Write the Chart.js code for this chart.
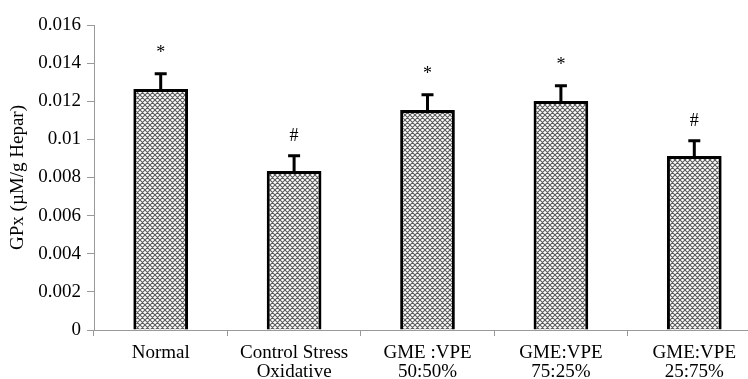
<!DOCTYPE html>
<html>
<head>
<meta charset="utf-8">
<script src="https://cdn.jsdelivr.net/npm/chart.js@4"></script>
<style>
html,body{margin:0;padding:0;background:#fff;overflow:hidden;}
#wrap{width:780px;height:379px;}
</style>
</head>
<body>
<div id="wrap"><canvas id="grafico" width="780" height="379"></canvas></div>
<script>
const categorias=[["Normal"],["Control Stress","Oxidative"],["GME :VPE","50:50%"],["GME:VPE","75:25%"],["GME:VPE","25:75%"]];
const valores=[0.01264,0.00834,0.01154,0.01201,0.00913];
const erros=[0.0008,0.0008,0.0008,0.0008,0.0008];
const marcas=["*","#","*","*","#"];
const yTicks=[0,0.002,0.004,0.006,0.008,0.01,0.012,0.014,0.016];

function hachura(){
let c=document.createElement("canvas");c.width=5;c.height=5;
let g=c.getContext("2d");
g.fillStyle="#fff";g.fillRect(0,0,5,5);
g.strokeStyle="#5c5c5c";g.lineWidth=1.1;
g.beginPath();
for(let k=-5;k<=5;k+=5){g.moveTo(k-1,-1);g.lineTo(k+6,6);g.moveTo(k+6,-1);g.lineTo(k-1,6);}
g.stroke();
return g.createPattern(c,"repeat");
}

const barrasErro={
id:"barrasErro",
afterDatasetsDraw(chart){
let ctx=chart.ctx,meta=chart.getDatasetMeta(0),y=chart.scales.y;
ctx.save();
meta.data.forEach((bar,i)=>{
let topo=y.getPixelForValue(valores[i]+erros[i]);
let base=y.getPixelForValue(valores[i]);
ctx.strokeStyle="#000";ctx.lineWidth=3;
ctx.beginPath();ctx.moveTo(bar.x,base);ctx.lineTo(bar.x,topo);
ctx.moveTo(bar.x-6,topo);ctx.lineTo(bar.x+6,topo);ctx.stroke();
ctx.fillStyle="#000";ctx.font="18px 'Liberation Serif'";ctx.textAlign="center";ctx.textBaseline="alphabetic";
ctx.fillText(marcas[i],bar.x,topo-(marcas[i]=="*"?16:15));
});
ctx.restore();
}
};

new Chart(document.getElementById("grafico"),{
type:"bar",
data:{labels:categorias,datasets:[{data:valores,backgroundColor:hachura(),borderColor:"#000",borderWidth:3,borderSkipped:"bottom",categoryPercentage:1,barPercentage:0.41}]},
options:{
responsive:false,animation:false,
layout:{padding:{left:0,right:19,top:25,bottom:0}},
plugins:{legend:{display:false},tooltip:{enabled:false}},
scales:{
x:{offset:true,
afterFit(ax){ax.height=49;},
grid:{display:true,drawOnChartArea:false,offset:true,color:"#999",tickLength:6},
border:{color:"#999",width:1},
ticks:{color:"#000",font:{family:"Liberation Serif",size:19,lineHeight:1},maxRotation:0,padding:8}},
y:{min:0,max:0.016,
afterFit(ax){ax.width=94;},
afterBuildTicks(ax){ax.ticks=yTicks.map(v=>({value:v}));},
grid:{display:true,drawOnChartArea:false,color:"#999",tickLength:7},
border:{color:"#999",width:1},
ticks:{color:"#000",font:{family:"Liberation Serif",size:19},padding:6,callback:v=>String(+v.toFixed(3))},
title:{display:true,text:"GPx (µM/g Hepar)",color:"#000",font:{family:"Liberation Serif",size:19},padding:{top:7,bottom:0}}}
}
},
plugins:[barrasErro]
});
</script>
</body>
</html>
